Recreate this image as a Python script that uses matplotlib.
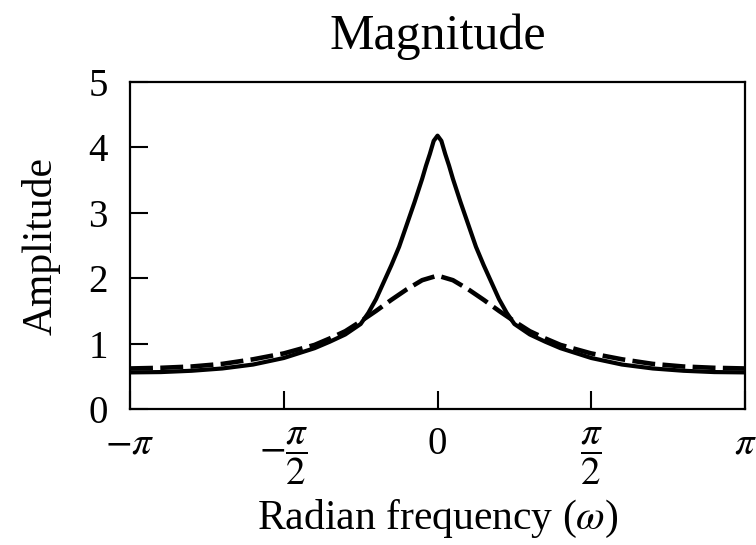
import numpy as np
import matplotlib
matplotlib.use("Agg")
import matplotlib.pyplot as plt

plt.rcParams['font.family'] = ['Liberation Serif', 'DejaVu Serif']
plt.rcParams['mathtext.fontset'] = 'stix'

# values, frequency in units of pi (right half, curves are symmetric)
w_solid = [0.0, 0.0125, 0.025, 0.0375, 0.05, 0.075, 0.1, 0.125, 0.15, 0.175, 0.2, 0.225,
           0.25, 0.3, 0.35, 0.4, 0.5, 0.6, 0.7, 0.8, 0.9, 1.0]
amp_solid = [4.18, 4.10, 3.90, 3.72, 3.52, 3.16, 2.82, 2.48, 2.20, 1.94, 1.68, 1.47,
             1.30, 1.14, 1.03, 0.93, 0.78, 0.68, 0.62, 0.585, 0.565, 0.56]

w_dash = [0.0, 0.05, 0.1, 0.15, 0.2, 0.25, 0.3, 0.35, 0.4, 0.5,
          0.6, 0.7, 0.8, 0.9, 1.0]
amp_dash = [2.04, 1.97, 1.83, 1.67, 1.50, 1.34, 1.19, 1.08, 0.98, 0.85,
            0.76, 0.69, 0.65, 0.63, 0.62]

xticks = [-np.pi, -np.pi / 2, 0, np.pi / 2, np.pi]
xticklabels = [r'$-\pi$', r'$-\dfrac{\pi}{2}$', '0', r'$\dfrac{\pi}{2}$', r'$\pi$']
yticks = [0, 1, 2, 3, 4, 5]


def mirror(w, a):
    w = np.array(w) * np.pi
    a = np.array(a)
    return np.concatenate([-w[:0:-1], w]), np.concatenate([a[:0:-1], a])


fig = plt.figure(figsize=(7.56, 5.45), dpi=100)
ax = fig.add_axes([0.172, 0.2495, 0.8135, 0.6])

xs, ys = mirror(w_solid, amp_solid)
ax.plot(xs, ys, color='black', lw=3.0, solid_joinstyle='round')
xd, yd = mirror(w_dash, amp_dash)
ax.plot(xd, yd, color='black', lw=3.3, dashes=(5, 1.6))

ax.set_xlim(-np.pi, np.pi)
ax.set_ylim(0, 5)
ax.set_xticks(xticks)
ax.set_xticklabels(xticklabels)
ax.set_yticks(yticks)
ax.tick_params(direction='in', length=13, width=1.5, labelsize=28)
ax.tick_params(axis='x', pad=12)
ax.tick_params(axis='y', pad=16)
for s in ax.spines.values():
    s.set_linewidth(1.6)

ax.set_title('Magnitude', fontsize=36, pad=24)
ax.set_xlabel(r'Radian frequency ($\omega$)', fontsize=30, labelpad=8)
ax.set_ylabel('Amplitude', fontsize=30, labelpad=20)

fig.savefig('out.png', dpi=100)
